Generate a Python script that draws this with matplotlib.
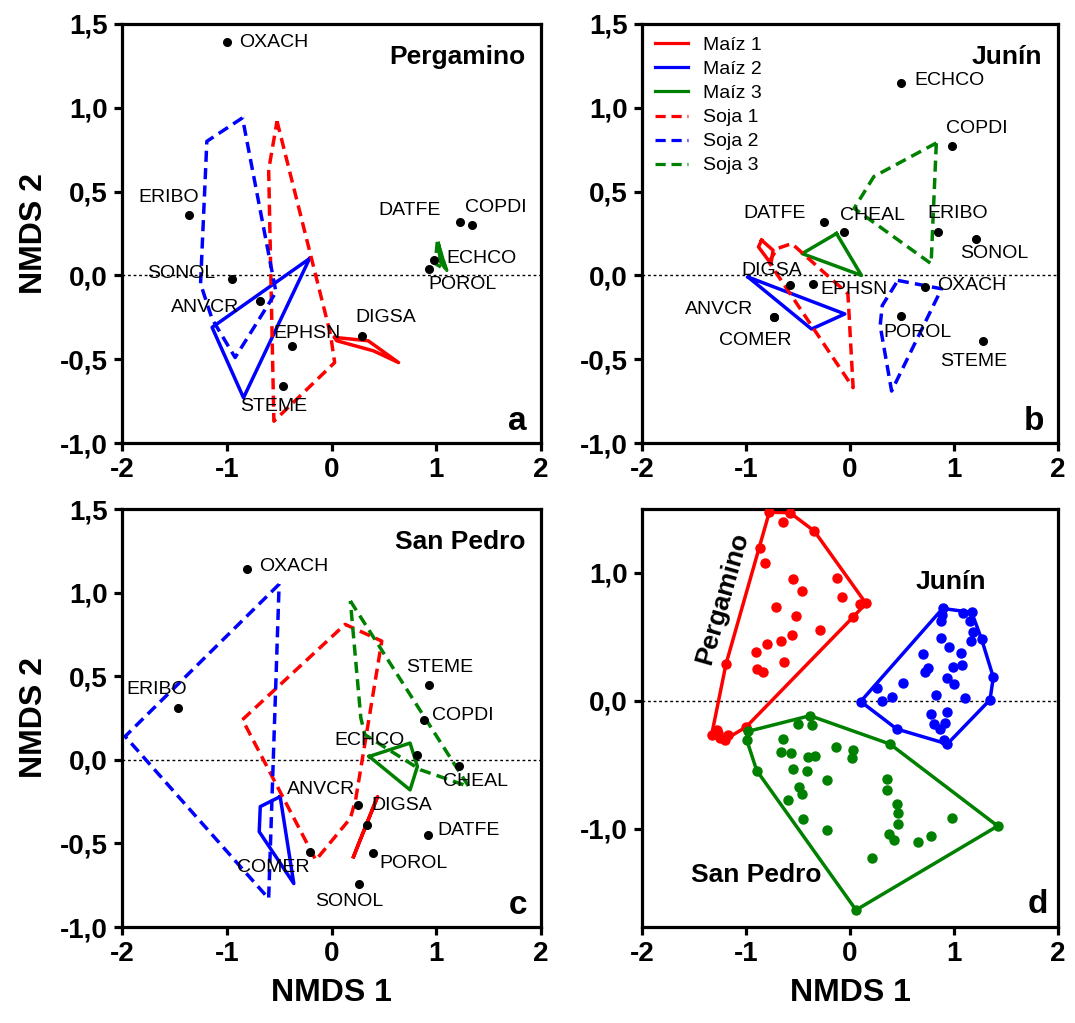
import matplotlib
matplotlib.use("Agg")
import matplotlib.pyplot as plt
from matplotlib.lines import Line2D
from matplotlib.ticker import FuncFormatter

plt.rcParams["font.family"] = ["Liberation Sans", "DejaVu Sans"]

# ---------------- species scores (NMDS 1, NMDS 2) ----------------
species_a = ["OXACH", "ERIBO", "SONOL", "ANVCR", "EPHSN", "STEME", "DIGSA",
             "DATFE", "COPDI", "ECHCO", "POROL"]
x_a = [-1.00, -1.36, -0.95, -0.68, -0.38, -0.46, 0.29, 1.23, 1.34, 0.98, 0.93]
y_a = [1.39, 0.36, -0.02, -0.15, -0.42, -0.66, -0.36, 0.32, 0.30, 0.09, 0.04]

species_b = ["ECHCO", "COPDI", "CHEAL", "ERIBO", "SONOL", "OXACH", "POROL",
             "STEME", "DATFE", "DIGSA", "EPHSN", "ANVCR", "COMER"]
x_b = [0.49, 0.98, -0.06, 0.85, 1.21, 0.72, 0.49, 1.28, -0.25, -0.58, -0.36, -0.73, -0.73]
y_b = [1.15, 0.77, 0.26, 0.26, 0.22, -0.07, -0.24, -0.39, 0.32, -0.06, -0.05, -0.25, -0.25]

species_c = ["OXACH", "ERIBO", "ANVCR", "DIGSA", "COMER", "POROL", "SONOL",
             "DATFE", "STEME", "COPDI", "ECHCO", "CHEAL"]
x_c = [-0.81, -1.47, 0.25, 0.34, -0.21, 0.40, 0.26, 0.92, 0.93, 0.88, 0.82, 1.22]
y_c = [1.14, 0.31, -0.27, -0.39, -0.55, -0.56, -0.74, -0.45, 0.45, 0.24, 0.03, -0.04]

# ---------------- hull vertices of the crop-treatment groups ----------------
treatments = ["Maíz 1", "Maíz 2", "Maíz 3", "Soja 1", "Soja 2", "Soja 3"]

hulls_a = {
    "Maíz 1": ([0.03, 0.35, 0.64, 0.40, 0.05], [-0.37, -0.39, -0.52, -0.45, -0.39]),
    "Maíz 2": ([-0.21, -1.14, -0.84], [0.10, -0.31, -0.73]),
    "Maíz 3": ([1.02, 1.09, 1.04], [0.19, 0.04, 0.08]),
    "Soja 1": ([-0.52, -0.01, 0.03, -0.55, -0.60], [0.92, -0.35, -0.52, -0.87, 0.63]),
    "Soja 2": ([-0.85, -1.19, -1.25, -1.14, -0.92, -0.53], [0.94, 0.80, -0.05, -0.26, -0.49, -0.10]),
    "Soja 3": ([1.01, 0.99, 1.10, 1.05], [0.20, 0.07, 0.03, 0.12]),
}
hulls_b = {
    "Maíz 1": ([-0.85, -0.74, -0.76, -0.88], [0.21, 0.15, 0.07, 0.17]),
    "Maíz 2": ([-0.98, -0.05, -0.37], [-0.01, -0.23, -0.32]),
    "Maíz 3": ([-0.13, -0.46, 0.11], [0.25, 0.13, 0.00]),
    "Soja 1": ([-0.78, -0.70, -0.56, -0.02, 0.03], [0.08, 0.16, 0.19, -0.11, -0.67]),
    "Soja 2": ([0.46, 0.88, 0.40, 0.29, 0.31], [-0.03, -0.08, -0.69, -0.30, -0.18]),
    "Soja 3": ([0.83, 0.23, 0.04, 0.78], [0.79, 0.59, 0.40, 0.07]),
}
hulls_c = {
    "Maíz 1": ([0.21, 0.44, 0.26], [-0.58, -0.22, -0.50]),
    "Maíz 2": ([-0.49, -0.68, -0.69, -0.36], [-0.22, -0.28, -0.43, -0.74]),
    "Maíz 3": ([0.36, 0.75, 0.82, 0.75], [0.02, 0.10, -0.04, -0.18]),
    "Soja 1": ([-0.85, 0.13, 0.48, 0.23, 0.18, -0.15], [0.24, 0.81, 0.71, -0.24, -0.35, -0.60]),
    "Soja 2": ([-0.50, -1.97, -0.60], [1.05, 0.14, -0.83]),
    "Soja 3": ([0.18, 1.31, 0.85, 0.32, 0.28], [0.95, -0.16, -0.06, 0.15, 0.25]),
}

# ---------------- site scores per location (panel d) ----------------
perg_x = [-0.776, -0.577, -0.641, -0.343, -0.865, -0.817, -0.545, -0.128, -0.465, -0.080,
          0.096, 0.154, -0.712, -0.519, 0.032, -0.288, -0.561, -0.663, -0.801, -0.907,
          -0.632, -1.192, -0.897, -0.833, -1.330, -1.266, -1.170, -1.202, -1.250, -1.000, -1.280]
perg_y = [1.475, 1.471, 1.397, 1.327, 1.197, 1.077, 0.956, 0.961, 0.859, 0.813,
          0.756, 0.761, 0.734, 0.665, 0.657, 0.553, 0.514, 0.470, 0.443, 0.384,
          0.302, 0.288, 0.249, 0.228, -0.265, -0.252, -0.265, -0.304, -0.292, -0.206, -0.226]

junin_x = [0.891, 0.881, 0.875, 1.090, 1.170, 1.154, 1.186, 1.266, 1.163, 0.875,
           0.955, 0.705, 1.067, 1.080, 0.993, 0.753, 0.721, 0.930, 1.003, 1.378,
           0.513, 0.263, 0.407, 0.305, 0.103, 0.827, 1.106, 1.346, 0.779, 0.930,
           0.810, 0.913, 0.865, 0.449, 0.907, 0.936]
junin_y = [0.722, 0.670, 0.625, 0.687, 0.691, 0.625, 0.539, 0.480, 0.467, 0.488,
           0.418, 0.366, 0.376, 0.280, 0.262, 0.255, 0.228, 0.181, 0.130, 0.184,
           0.137, 0.098, 0.033, 0.000, -0.006, 0.046, 0.021, 0.007, -0.102, -0.088,
           -0.179, -0.174, -0.221, -0.221, -0.304, -0.338]

sp_x = [-0.385, -0.497, -0.368, -0.984, -0.994, -0.641, 0.385, -0.135, 0.032, -0.663,
        -0.570, -0.337, -0.407, 0.022, -0.897, -0.545, -0.417, -0.224, 0.353, -0.487,
        0.353, -0.465, -0.599, 0.449, 0.458, -0.455, 0.978, 0.465, 1.420, -0.224,
        0.378, 0.423, 0.776, 0.651, 0.215, 0.058]
sp_y = [-0.117, -0.182, -0.193, -0.240, -0.304, -0.299, -0.339, -0.361, -0.383, -0.401,
        -0.408, -0.435, -0.442, -0.447, -0.546, -0.531, -0.546, -0.621, -0.616, -0.673,
        -0.699, -0.728, -0.780, -0.811, -0.876, -0.928, -0.921, -0.967, -0.980, -1.013,
        -1.040, -1.091, -1.057, -1.104, -1.234, -1.637]

# ---------------- styling ----------------
RED, BLUE, GREEN = "#FF0000", "#0000FF", "#008000"
DASH = (0, (3.2, 1.8))
styles = {
    "Maíz 1": (RED, "-"), "Maíz 2": (BLUE, "-"), "Maíz 3": (GREEN, "-"),
    "Soja 1": (RED, DASH), "Soja 2": (BLUE, DASH), "Soja 3": (GREEN, DASH),
}
HULL_LW = 2.5
LABEL_FS = 14

# label placement: (dx pt, dy pt, horizontal alignment)
lab_a = {"OXACH": (9, 0, "left"), "ERIBO": (-15, 13, "center"), "SONOL": (-12, 4, "right"),
         "ANVCR": (-15, -5, "right"), "EPHSN": (11, 9, "center"), "STEME": (-7, -15, "center"),
         "DIGSA": (17, 13, "center"), "DATFE": (-14, 8, "right"), "COPDI": (17, 13, "center"),
         "ECHCO": (9, 1.5, "left"), "POROL": (24, -11.5, "center")}
lab_b = {"ECHCO": (10, 1.5, "left"), "COPDI": (18, 13, "center"), "CHEAL": (21, 12, "center"),
         "ERIBO": (14, 13, "center"), "SONOL": (13, -11, "center"), "OXACH": (9, 1, "left"),
         "POROL": (12, -12.5, "center"), "STEME": (-7, -15, "center"), "DATFE": (-13, 6, "right"),
         "DIGSA": (-13, 11, "center"), "EPHSN": (5.5, -4, "left"), "ANVCR": (-15, 5.5, "right"),
         "COMER": (-13.5, -17, "center")}
lab_c = {"OXACH": (9, 2, "left"), "ERIBO": (-15, 13, "center"), "ANVCR": (-26, 11, "center"),
         "DIGSA": (25, 14, "center"), "COMER": (-26, -11, "center"), "POROL": (29, -7, "center"),
         "SONOL": (-7, -13, "center"), "DATFE": (7, 3, "left"), "STEME": (8, 12, "center"),
         "COPDI": (6, 3, "left"), "ECHCO": (-34.5, 10, "center"), "CHEAL": (12, -11, "center")}

W, H = 1075, 1023
fig = plt.figure(figsize=(W / 100, H / 100), dpi=100)


def px_axes(l, r, t, b):
    return fig.add_axes([l / W, 1 - b / H, (r - l) / W, (b - t) / H])


ax_a = px_axes(122, 541, 24, 443)
ax_b = px_axes(642, 1058, 24, 443)
ax_c = px_axes(122, 541, 509, 927)
ax_d = px_axes(642, 1058, 509, 927)

comma = FuncFormatter(lambda v, p: f"{v:.1f}".replace(".", ","))
intfmt = FuncFormatter(lambda v, p: f"{v:.0f}")


def style_axes(ax, ylim, yticks):
    ax.set_xlim(-2, 2)
    ax.set_ylim(*ylim)
    ax.set_xticks([-2, -1, 0, 1, 2])
    ax.set_yticks(yticks)
    ax.xaxis.set_major_formatter(intfmt)
    ax.yaxis.set_major_formatter(comma)
    for s in ax.spines.values():
        s.set_linewidth(2.3)
    ax.tick_params(direction="out", length=6, width=2.3, labelsize=20, pad=4)
    for lab in ax.get_xticklabels() + ax.get_yticklabels():
        lab.set_fontweight("bold")
    ax.axhline(0, color="black", lw=1.0, ls=(0, (2, 2)), zorder=1)


def draw_species_panel(ax, names, xs, ys, hulls, labels, title, letter):
    style_axes(ax, (-1.0, 1.5), [-1.0, -0.5, 0.0, 0.5, 1.0, 1.5])
    for t in treatments:
        hx, hy = hulls[t]
        col, ls = styles[t]
        ax.plot(hx + hx[:1], hy + hy[:1], color=col, ls=ls, lw=HULL_LW, zorder=2)
    ax.plot(xs, ys, "o", color="black", ms=5.5, zorder=4)
    for n, x, y in zip(names, xs, ys):
        dx, dy, ha = labels[n]
        ax.annotate(n, (x, y), xytext=(dx, dy), textcoords="offset points",
                    ha=ha, va="center", fontsize=LABEL_FS, zorder=5)
    ax.text(0.962, 0.922, title, transform=ax.transAxes, ha="right", va="center",
            fontsize=19, fontweight="bold")
    ax.text(0.966, 0.03, letter, transform=ax.transAxes, ha="right", va="baseline",
            fontsize=24, fontweight="bold")


draw_species_panel(ax_a, species_a, x_a, y_a, hulls_a, lab_a, "Pergamino", "a")
draw_species_panel(ax_b, species_b, x_b, y_b, hulls_b, lab_b, "Junín", "b")
draw_species_panel(ax_c, species_c, x_c, y_c, hulls_c, lab_c, "San Pedro", "c")

# legend of treatments
handles = [Line2D([], [], color=styles[t][0], ls=styles[t][1], lw=2.3) for t in treatments]
ax_b.legend(handles, treatments, loc="upper left", bbox_to_anchor=(0.0, 1.0),
            frameon=False, fontsize=LABEL_FS, handlelength=1.7, handletextpad=0.8,
            labelspacing=0.33, borderaxespad=0.25)


# ---------------- panel d: sites with convex hulls ----------------
def convex_hull(xs, ys):
    pts = sorted(set(zip(xs, ys)))

    def cross(o, a, b):
        return (a[0] - o[0]) * (b[1] - o[1]) - (a[1] - o[1]) * (b[0] - o[0])

    lower, upper = [], []
    for p in pts:
        while len(lower) >= 2 and cross(lower[-2], lower[-1], p) <= 0:
            lower.pop()
        lower.append(p)
    for p in reversed(pts):
        while len(upper) >= 2 and cross(upper[-2], upper[-1], p) <= 0:
            upper.pop()
        upper.append(p)
    hull = lower[:-1] + upper[:-1]
    hull.append(hull[0])
    return [p[0] for p in hull], [p[1] for p in hull]


style_axes(ax_d, (-1.77, 1.5), [-1.0, 0.0, 1.0])
for xs, ys, col in [(perg_x, perg_y, RED), (junin_x, junin_y, BLUE), (sp_x, sp_y, GREEN)]:
    hx, hy = convex_hull(xs, ys)
    ax_d.plot(hx, hy, color=col, lw=2.5, zorder=2)
    ax_d.plot(xs, ys, "o", color=col, ms=6.5, zorder=3)

ax_d.text(-1.23, 0.80, "Pergamino", rotation=74, ha="center", va="center",
          fontsize=19, fontweight="bold")
ax_d.text(0.97, 0.93, "Junín", ha="center", va="center", fontsize=19, fontweight="bold")
ax_d.text(-0.90, -1.36, "San Pedro", ha="center", va="center", fontsize=19, fontweight="bold")
ax_d.text(0.976, 0.033, "d", transform=ax_d.transAxes, ha="right", va="baseline",
          fontsize=24, fontweight="bold")

# axis titles
for ax in (ax_a, ax_c):
    ax.set_ylabel("NMDS 2", fontsize=23, fontweight="bold", labelpad=8)
for ax in (ax_c, ax_d):
    ax.set_xlabel("NMDS 1", fontsize=23, fontweight="bold", labelpad=8)

fig.savefig("out.png", dpi=100)
